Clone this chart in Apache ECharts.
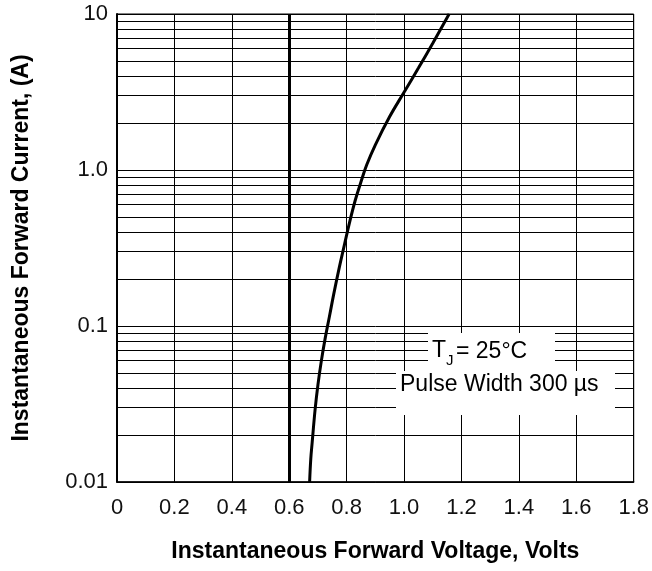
<!DOCTYPE html>
<html>
<head>
<meta charset="utf-8">
<script src="https://cdn.jsdelivr.net/npm/echarts@6/dist/echarts.min.js"></script>
<style>
  html, body { margin: 0; padding: 0; background: #fff; }
  #main { width: 652px; height: 571px; }
</style>
</head>
<body>
<div id="main"></div>
<script>
// forward characteristic
var voltage = [0.671, 0.675, 0.680, 0.690, 0.700, 0.712, 0.725, 0.740, 0.755, 0.775, 0.792,
  0.810, 0.830, 0.850, 0.870, 0.900, 0.950, 1.000, 1.050, 1.100, 1.157]
var current = [0.01, 0.014, 0.018, 0.029, 0.042, 0.060, 0.083, 0.115, 0.16, 0.24, 0.33,
  0.46, 0.64, 0.84, 1.08, 1.45, 2.2, 3.15, 4.5, 6.5, 10]

var xTickLabels = ['0', '0.2', '0.4', '0.6', '0.8', '1.0', '1.2', '1.4', '1.6', '1.8']
var yTickValues = [0.01, 0.1, 1, 10]
var yTickLabels = ['0.01', '0.1', '1.0', '10']
// 2..9 lines inside each decade
var minorY = [0.02, 0.03, 0.04, 0.05, 0.06, 0.07, 0.08, 0.09,
  0.2, 0.3, 0.4, 0.5, 0.6, 0.7, 0.8, 0.9,
  2, 3, 4, 5, 6, 7, 8, 9]
var markVoltage = [0.6]

var font = '"Liberation Sans", Arial, sans-serif'

var curve = []
for (var i = 0; i < voltage.length; i++) {
  curve.push([voltage[i], current[i]])
}

var lines = minorY.map(function (v) {
  return { yAxis: v, lineStyle: { color: '#000', width: 1, type: 'solid' } }
})
markVoltage.forEach(function (v) {
  lines.push({ xAxis: v, lineStyle: { color: '#000', width: 3, type: 'solid' } })
})

var myChart = echarts.init(document.getElementById('main'))
var option = {
  backgroundColor: '#fff',
  animation: false,
  grid: {
    left: 117, right: 17, top: 14, bottom: 89,
    show: true, borderColor: '#000', borderWidth: 1
  },
  xAxis: {
    type: 'value',
    min: 0,
    max: 1.8,
    interval: 0.2,
    name: 'Instantaneous Forward Voltage, Volts',
    nameLocation: 'middle',
    nameGap: 58,
    nameTextStyle: { fontFamily: font, fontWeight: 'bold', fontSize: 23, color: '#000' },
    axisLine: { show: true, lineStyle: { color: '#000', width: 1.5 } },
    axisTick: { show: false },
    axisLabel: {
      margin: 15,
      fontFamily: font,
      fontSize: 22,
      color: '#111',
      formatter: function (v) { return xTickLabels[Math.round(v / 0.2)] }
    },
    splitLine: { show: true, lineStyle: { color: '#000', width: 1 } }
  },
  yAxis: {
    type: 'log',
    logBase: 10,
    min: 0.01,
    max: 10,
    name: 'Instantaneous Forward Current, (A)',
    nameLocation: 'middle',
    nameGap: 84,
    nameTextStyle: { fontFamily: font, fontWeight: 'bold', fontSize: 23, color: '#000' },
    axisLine: { show: true, lineStyle: { color: '#000', width: 2 } },
    axisTick: { show: false },
    axisLabel: {
      margin: 9,
      fontFamily: font,
      fontSize: 22,
      color: '#111',
      formatter: function (v) {
        for (var k = 0; k < yTickValues.length; k++) {
          if (Math.abs(Math.log10(v) - Math.log10(yTickValues[k])) < 1e-6) return yTickLabels[k]
        }
        return ''
      }
    },
    splitLine: { show: true, lineStyle: { color: '#000', width: 1 } }
  },
  series: [
    {
      type: 'line',
      data: curve,
      smooth: 0.4,
      showSymbol: false,
      lineStyle: { color: '#000', width: 3 },
      markLine: {
        silent: true,
        symbol: 'none',
        label: { show: false },
        animation: false,
        data: lines
      }
    }
  ],
  graphic: [
    { type: 'rect', z: 100, shape: { x: 428, y: 333, width: 127, height: 39 }, style: { fill: '#fff' } },
    { type: 'rect', z: 100, shape: { x: 396, y: 371, width: 219, height: 44 }, style: { fill: '#fff' } },
    { type: 'text', z: 101, x: 432, y: 351,
      style: { text: 'T', font: '23px ' + font, fill: '#000', align: 'left', verticalAlign: 'middle' } },
    { type: 'text', z: 101, x: 446, y: 361,
      style: { text: 'J', font: '15px ' + font, fill: '#000', align: 'left', verticalAlign: 'middle' } },
    { type: 'text', z: 101, x: 456, y: 352,
      style: { text: '= 25°C', font: '23px ' + font, fill: '#000', align: 'left', verticalAlign: 'middle' } },
    { type: 'text', z: 101, x: 400, y: 385,
      style: { text: 'Pulse Width 300 µs', font: '23px ' + font, fill: '#000', align: 'left', verticalAlign: 'middle' } }
  ]
}
myChart.setOption(option)
</script>
</body>
</html>
